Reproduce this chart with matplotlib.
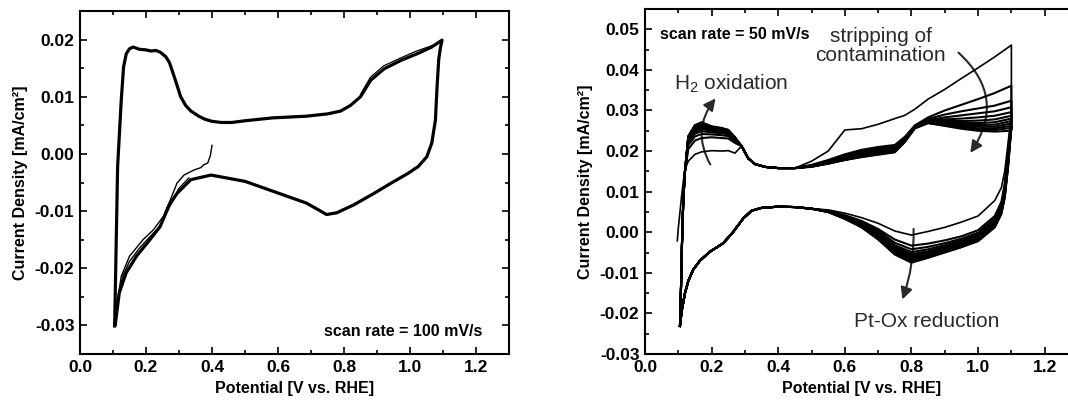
import matplotlib
matplotlib.use("Agg")
import matplotlib.pyplot as plt
from matplotlib.patches import FancyArrowPatch
from matplotlib.ticker import MultipleLocator

plt.rcParams['font.family'] = ['Liberation Sans', 'DejaVu Sans']
plt.rcParams['mathtext.fontset'] = 'custom'
plt.rcParams['mathtext.rm'] = 'Liberation Sans'
plt.rcParams['mathtext.it'] = 'Liberation Sans:italic'
plt.rcParams['mathtext.bf'] = 'Liberation Sans:bold'

# ---------------- left panel: 100 mV/s ----------------
left_anodic_E = [0.105, 0.114, 0.125, 0.132, 0.140, 0.150, 0.161, 0.180, 0.200, 0.215,
                 0.230, 0.243, 0.260, 0.271, 0.289, 0.305, 0.320, 0.336, 0.360, 0.377,
                 0.400, 0.428, 0.460, 0.500, 0.583, 0.686, 0.750, 0.790, 0.820, 0.850,
                 0.881, 0.922, 0.974, 1.025, 1.066, 1.097]
left_anodic_j = [-0.0301, -0.0022, 0.0094, 0.0152, 0.0175, 0.0184, 0.0187, 0.0183, 0.0182, 0.0180,
                 0.0181, 0.0178, 0.0170, 0.0160, 0.0129, 0.0100, 0.0085, 0.0075, 0.0066, 0.0061,
                 0.0057, 0.0055, 0.0055, 0.0058, 0.0063, 0.0066, 0.0070, 0.0075, 0.0085, 0.0100,
                 0.0129, 0.0149, 0.0164, 0.0176, 0.0187, 0.0199]
left_cathodic_E = [1.097, 1.092, 1.087, 1.082, 1.077, 1.066, 1.051, 1.025, 0.994, 0.943,
                   0.891, 0.830, 0.778, 0.747, 0.720, 0.686, 0.603, 0.500, 0.397, 0.336,
                   0.294, 0.268, 0.243, 0.212, 0.171, 0.140, 0.119, 0.107]
left_cathodic_j = [0.0199, 0.0185, 0.0165, 0.0117, 0.0059, 0.0019, -0.0005, -0.0022, -0.0034, -0.0051,
                   -0.0069, -0.0089, -0.0103, -0.0106, -0.0097, -0.0086, -0.0069, -0.0048, -0.0037, -0.0045,
                   -0.0069, -0.0092, -0.0127, -0.0150, -0.0179, -0.0208, -0.0243, -0.0298]
left_spread_E = [0.85, 0.88, 0.92, 0.95, 0.98, 1.02, 1.06, 1.097]
left_spread_j = [0.0104, 0.0134, 0.0154, 0.0162, 0.0170, 0.0180, 0.0188, 0.0197]
left_first_E = [0.400, 0.395, 0.387, 0.375, 0.366, 0.346, 0.315, 0.294, 0.274, 0.253,
                0.222, 0.191, 0.150, 0.125, 0.114, 0.107]
left_first_j = [0.0015, -0.0003, -0.0016, -0.0019, -0.0024, -0.0028, -0.0037, -0.0051, -0.0080, -0.0109,
                -0.0133, -0.0150, -0.0179, -0.0214, -0.0255, -0.0298]
left_second_E = [0.330, 0.300, 0.280, 0.260, 0.240, 0.210, 0.180, 0.150, 0.130, 0.115, 0.107]
left_second_j = [-0.0042, -0.0060, -0.0082, -0.0107, -0.0128, -0.0146, -0.0165, -0.0188, -0.0213, -0.0252, -0.0297]

# ---------------- right panel: 50 mV/s, 12 cycles ----------------
first_start_E = [0.097, 0.100, 0.105, 0.110, 0.115, 0.120]
first_start_j = [-0.0021, 0.0010, 0.0050, 0.0090, 0.0125, 0.0155]
start_E = [0.105, 0.108, 0.111, 0.115, 0.120]
start_j = [-0.0231, -0.0140, -0.0030, 0.0080, 0.0150]

h_E = [0.13, 0.15, 0.17, 0.20, 0.23, 0.25, 0.27]
h_j = [
    [0.0175, 0.0192, 0.0198, 0.0201, 0.0200, 0.0201, 0.0195],
    [0.0205, 0.0226, 0.0232, 0.0234, 0.0232, 0.0231, 0.0220],
    [0.0215, 0.0236, 0.0242, 0.0241, 0.0239, 0.0237, 0.0224],
    [0.0222, 0.0243, 0.0249, 0.0246, 0.0244, 0.0241, 0.0227],
    [0.0226, 0.0248, 0.0254, 0.0250, 0.0247, 0.0244, 0.0229],
    [0.0229, 0.0252, 0.0258, 0.0253, 0.0250, 0.0246, 0.0230],
    [0.0231, 0.0255, 0.0261, 0.0255, 0.0252, 0.0248, 0.0231],
    [0.0233, 0.0258, 0.0264, 0.0257, 0.0253, 0.0249, 0.0232],
    [0.0234, 0.0260, 0.0266, 0.0258, 0.0254, 0.0250, 0.0233],
    [0.0235, 0.0262, 0.0268, 0.0259, 0.0255, 0.0251, 0.0233],
    [0.0236, 0.0263, 0.0270, 0.0260, 0.0256, 0.0252, 0.0234],
    [0.0237, 0.0264, 0.0271, 0.0261, 0.0257, 0.0252, 0.0234],
]

valley_E = [0.29, 0.31, 0.33, 0.36, 0.40, 0.45]
valley_j = [0.0212, 0.0182, 0.0168, 0.0161, 0.0158, 0.0158]

hi_E = [0.50, 0.55, 0.60, 0.65, 0.70, 0.75, 0.78, 0.81, 0.85, 0.90, 0.95, 1.00, 1.05, 1.10]
hi_j = [
    [0.0175, 0.0200, 0.0252, 0.0255, 0.0266, 0.0280, 0.0288, 0.0303, 0.0328, 0.0352, 0.0379, 0.0405, 0.0432, 0.0461],
    [0.0166, 0.0178, 0.0192, 0.0203, 0.0210, 0.0215, 0.0235, 0.0263, 0.0283, 0.0300, 0.0314, 0.0328, 0.0343, 0.0361],
    [0.0165, 0.0176, 0.0189, 0.0199, 0.0206, 0.0211, 0.0232, 0.0262, 0.0279, 0.0290, 0.0298, 0.0305, 0.0312, 0.0324],
    [0.0164, 0.0174, 0.0186, 0.0196, 0.0203, 0.0208, 0.0230, 0.0261, 0.0276, 0.0283, 0.0288, 0.0293, 0.0298, 0.0308],
    [0.0164, 0.0173, 0.0184, 0.0194, 0.0200, 0.0206, 0.0229, 0.0260, 0.0274, 0.0278, 0.0280, 0.0283, 0.0287, 0.0296],
    [0.0163, 0.0172, 0.0183, 0.0192, 0.0198, 0.0204, 0.0228, 0.0259, 0.0273, 0.0274, 0.0274, 0.0275, 0.0278, 0.0287],
    [0.0163, 0.0171, 0.0182, 0.0190, 0.0196, 0.0202, 0.0227, 0.0258, 0.0272, 0.0271, 0.0269, 0.0269, 0.0271, 0.0280],
    [0.0163, 0.0171, 0.0181, 0.0189, 0.0195, 0.0201, 0.0226, 0.0258, 0.0271, 0.0268, 0.0265, 0.0264, 0.0265, 0.0274],
    [0.0162, 0.0170, 0.0180, 0.0188, 0.0194, 0.0200, 0.0225, 0.0257, 0.0270, 0.0266, 0.0262, 0.0260, 0.0260, 0.0268],
    [0.0162, 0.0170, 0.0179, 0.0187, 0.0193, 0.0199, 0.0224, 0.0257, 0.0270, 0.0264, 0.0259, 0.0256, 0.0256, 0.0262],
    [0.0162, 0.0169, 0.0178, 0.0186, 0.0192, 0.0198, 0.0223, 0.0256, 0.0269, 0.0263, 0.0257, 0.0253, 0.0252, 0.0257],
    [0.0161, 0.0169, 0.0178, 0.0185, 0.0191, 0.0197, 0.0222, 0.0256, 0.0269, 0.0262, 0.0255, 0.0250, 0.0248, 0.0250],
]

cath_E = [1.10, 1.09, 1.08, 1.07, 1.05, 1.00, 0.95, 0.90, 0.85, 0.80, 0.75, 0.70, 0.65, 0.60, 0.55]
cath_j = [
    [0.0290, 0.0220, 0.0150, 0.0110, 0.0078, 0.0040, 0.0025, 0.0012, 0.0002, -0.0007, 0.0003, 0.0022, 0.0036, 0.0047, 0.0055],
    [0.0280, 0.0200, 0.0120, 0.0075, 0.0040, 0.0005, -0.0010, -0.0020, -0.0028, -0.0033, -0.0018, 0.0008, 0.0028, 0.0042, 0.0053],
    [0.0276, 0.0192, 0.0112, 0.0069, 0.0034, -0.0001, -0.0016, -0.0027, -0.0036, -0.0042, -0.0026, 0.0004, 0.0025, 0.0040, 0.0052],
    [0.0274, 0.0187, 0.0107, 0.0065, 0.0030, -0.0005, -0.0020, -0.0032, -0.0042, -0.0049, -0.0032, 0.0001, 0.0023, 0.0039, 0.0052],
    [0.0272, 0.0183, 0.0103, 0.0062, 0.0027, -0.0008, -0.0023, -0.0036, -0.0047, -0.0054, -0.0036, -0.0002, 0.0021, 0.0038, 0.0051],
    [0.0270, 0.0179, 0.0100, 0.0059, 0.0024, -0.0011, -0.0026, -0.0039, -0.0051, -0.0058, -0.0040, -0.0005, 0.0019, 0.0037, 0.0051],
    [0.0268, 0.0175, 0.0097, 0.0056, 0.0021, -0.0013, -0.0028, -0.0042, -0.0054, -0.0062, -0.0043, -0.0008, 0.0017, 0.0036, 0.0051],
    [0.0266, 0.0172, 0.0094, 0.0053, 0.0019, -0.0015, -0.0030, -0.0044, -0.0057, -0.0065, -0.0046, -0.0010, 0.0016, 0.0035, 0.0050],
    [0.0264, 0.0169, 0.0091, 0.0051, 0.0017, -0.0017, -0.0032, -0.0046, -0.0059, -0.0068, -0.0049, -0.0012, 0.0015, 0.0034, 0.0050],
    [0.0263, 0.0166, 0.0089, 0.0049, 0.0015, -0.0019, -0.0034, -0.0047, -0.0060, -0.0071, -0.0051, -0.0014, 0.0014, 0.0034, 0.0050],
    [0.0262, 0.0163, 0.0087, 0.0047, 0.0013, -0.0021, -0.0036, -0.0049, -0.0062, -0.0073, -0.0053, -0.0016, 0.0013, 0.0033, 0.0050],
    [0.0260, 0.0160, 0.0085, 0.0045, 0.0012, -0.0022, -0.0037, -0.0050, -0.0063, -0.0075, -0.0055, -0.0018, 0.0012, 0.0033, 0.0050],
]

tail_E = [0.50, 0.45, 0.40, 0.35, 0.32, 0.295, 0.265, 0.235, 0.195, 0.165, 0.145, 0.13, 0.12, 0.11, 0.105]
tail_j = [0.0058, 0.0062, 0.0063, 0.0060, 0.0053, 0.0034, 0.0001, -0.0027, -0.0048, -0.0070, -0.0092, -0.0120, -0.0150, -0.0195, -0.0231]

INK = '#2a2a2a'


def style_axes(ax, ylim, ymaj, ymin, right=True):
    ax.set_xlim(0, 1.3)
    ax.set_ylim(*ylim)
    ax.xaxis.set_major_locator(MultipleLocator(0.2))
    ax.xaxis.set_minor_locator(MultipleLocator(0.1))
    ax.yaxis.set_major_locator(MultipleLocator(ymaj))
    ax.yaxis.set_minor_locator(MultipleLocator(ymin))
    ax.xaxis.set_major_formatter(plt.FormatStrFormatter('%.1f'))
    ax.yaxis.set_major_formatter(plt.FormatStrFormatter('%.2f'))
    ax.tick_params(which='both', direction='in', top=True, right=right,
                   width=1.2, labelsize=12.5, pad=4)
    ax.tick_params(which='major', length=5)
    ax.tick_params(which='minor', length=3)
    for lab in ax.get_xticklabels() + ax.get_yticklabels():
        lab.set_fontweight('bold')
    for s in ax.spines.values():
        s.set_linewidth(1.5)
    ax.set_xlabel('Potential [V vs. RHE]', fontsize=11.5, fontweight='bold', labelpad=5)
    ax.set_ylabel('Current Density [mA/cm²]', fontsize=11.5, fontweight='bold', labelpad=5)


fig = plt.figure(figsize=(10.68, 4.04), dpi=100)

# left panel
ax1 = fig.add_axes([80 / 1068, 50 / 404, 429 / 1068, 343 / 404])
ax1.plot(left_anodic_E + left_cathodic_E, left_anodic_j + left_cathodic_j,
         color='black', lw=2.3)
ax1.plot(left_spread_E, left_spread_j, color='black', lw=0.9)
ax1.plot(left_first_E, left_first_j, color='black', lw=1.0)
ax1.plot(left_second_E, left_second_j, color='black', lw=1.0)
style_axes(ax1, (-0.035, 0.025), 0.01, 0.005)
ax1.text(1.218, -0.031, 'scan rate = 100 mV/s', ha='right', va='center',
         fontsize=11.5, fontweight='bold')

# right panel (cropped at the right edge like the source)
ax2 = fig.add_axes([645 / 1068, 50 / 404, 433 / 1068, 345 / 404])
for k in range(len(h_j)):
    sE = first_start_E if k == 0 else start_E
    sj = first_start_j if k == 0 else start_j
    E = sE + h_E + valley_E + hi_E + cath_E + tail_E
    j = sj + h_j[k] + valley_j + hi_j[k] + cath_j[k] + tail_j
    ax2.plot(E, j, color='black', lw=1.2 if k == 0 else 1.5)
style_axes(ax2, (-0.03, 0.055), 0.01, 0.005, right=False)

ax2.text(0.045, 0.0487, 'scan rate = 50 mV/s', ha='left', va='center',
         fontsize=11.5, fontweight='bold')
ax2.text(0.707, 0.0459, 'stripping of\ncontamination', ha='center', va='center',
         fontsize=15, color=INK, linespacing=1.0)
ax2.text(0.087, 0.0365, 'H$_2$ oxidation', ha='left', va='center',
         fontsize=15, color=INK)
ax2.text(0.845, -0.0221, 'Pt-Ox reduction', ha='center', va='center',
         fontsize=15, color=INK)

arrow_kw = dict(arrowstyle='-|>,head_length=7,head_width=3.5', color=INK,
                lw=1.5, mutation_scale=1)
ax2.add_patch(FancyArrowPatch((0.200, 0.0161), (0.217, 0.0335),
                              connectionstyle='arc3,rad=-0.35', **arrow_kw))
ax2.add_patch(FancyArrowPatch((0.935, 0.0447), (0.972, 0.0190),
                              connectionstyle='arc3,rad=-0.45', **arrow_kw))
ax2.add_patch(FancyArrowPatch((0.806, 0.0015), (0.770, -0.0172),
                              connectionstyle='arc3,rad=-0.1', **arrow_kw))

fig.savefig('out.png', dpi=100, facecolor='white')
